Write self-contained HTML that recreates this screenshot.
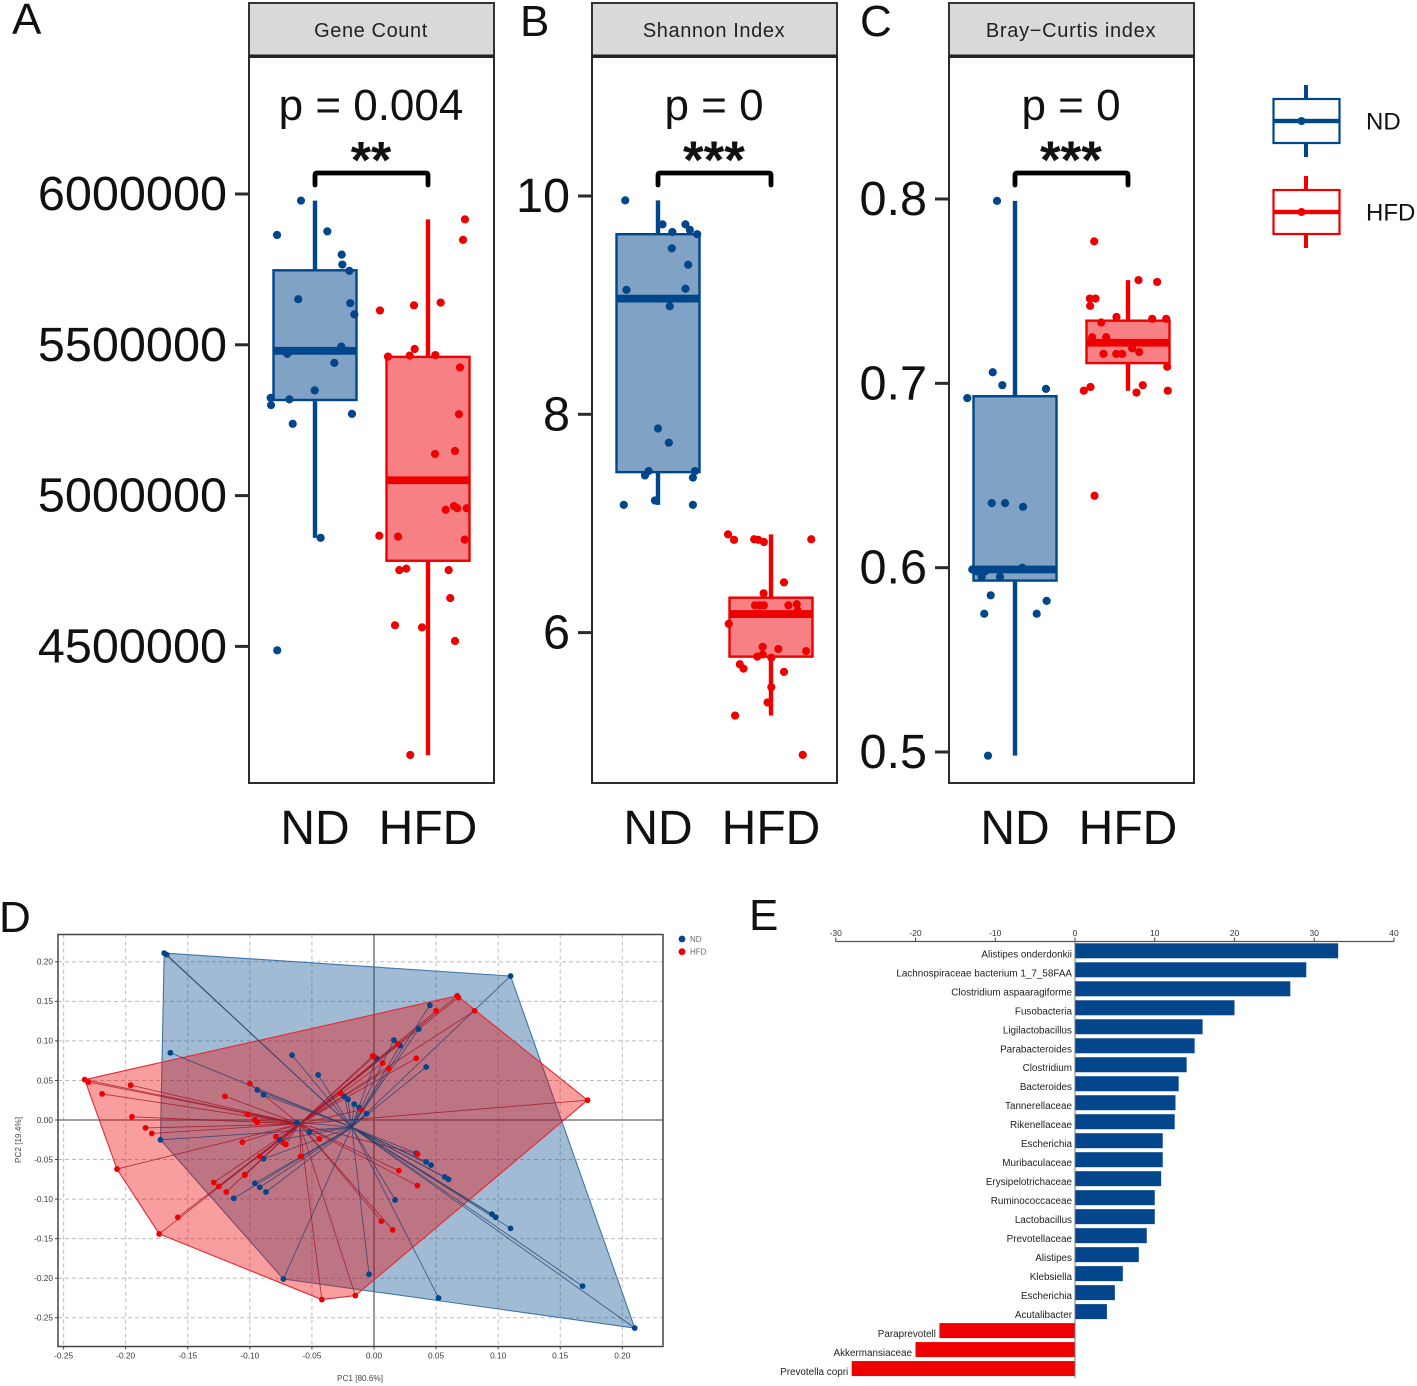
<!DOCTYPE html>
<html lang="en">
<head>
<meta charset="utf-8">
<title>Gut microbiome diversity, PCoA and differential taxa</title>
<style>
html,body{margin:0;padding:0;background:#fff;}
svg{display:block;font-family:"Liberation Sans",sans-serif;filter:blur(0.3px);}
</style>
</head>
<body>
<svg id="figure" xmlns="http://www.w3.org/2000/svg" width="1417" height="1386" viewBox="0 0 1417 1386">
  <rect x="0" y="0" width="1417" height="1386" fill="#fff"/>
  <text x="12" y="34" font-size="44" fill="#111">A</text>
  <text x="520" y="36" font-size="44" fill="#111">B</text>
  <text x="860" y="36" font-size="44" fill="#111">C</text>
  <text x="-1" y="932" font-size="44" fill="#111">D</text>
  <text x="749" y="930" font-size="44" fill="#111">E</text>

  <g id="panelA">
    <rect x="249" y="3" width="245" height="53" fill="#d9d9d9" stroke="#333" stroke-width="2"/>
    <text x="371" y="37" font-size="20" text-anchor="middle" letter-spacing="0.6" fill="#222">Gene Count</text>
    <text x="371" y="120" font-size="44" text-anchor="middle" fill="#111">p = 0.004</text>
    <text x="371" y="178" font-size="52" font-weight="bold" text-anchor="middle" fill="#111">**</text>
    <path d="M315 185V175Q315 173 317 173H426Q428 173 428 175V185" fill="none" stroke="#000" stroke-width="4.8" stroke-linecap="round"/>
  </g>
  <g id="panelB">
    <rect x="592" y="3" width="245" height="53" fill="#d9d9d9" stroke="#333" stroke-width="2"/>
    <text x="714" y="37" font-size="20" text-anchor="middle" letter-spacing="0.6" fill="#222">Shannon Index</text>
    <text x="714" y="120" font-size="44" text-anchor="middle" fill="#111">p = 0</text>
    <text x="714" y="178" font-size="53" font-weight="bold" text-anchor="middle" fill="#111">***</text>
    <path d="M658 185V175Q658 173 660 173H769Q771 173 771 175V185" fill="none" stroke="#000" stroke-width="4.8" stroke-linecap="round"/>
  </g>
  <g id="panelC">
    <rect x="949" y="3" width="245" height="53" fill="#d9d9d9" stroke="#333" stroke-width="2"/>
    <text x="1071" y="37" font-size="20" text-anchor="middle" letter-spacing="0.7" fill="#222">Bray−Curtis index</text>
    <text x="1071" y="120" font-size="44" text-anchor="middle" fill="#111">p = 0</text>
    <text x="1071" y="178" font-size="53" font-weight="bold" text-anchor="middle" fill="#111">***</text>
    <path d="M1015 185V175Q1015 173 1017 173H1126Q1128 173 1128 175V185" fill="none" stroke="#000" stroke-width="4.8" stroke-linecap="round"/>
  </g>

  <g>
    <g>
      <rect x="1304" y="85" width="4" height="72" fill="#00468b"/>
      <rect x="1273.5" y="99" width="66" height="44" fill="#fff" stroke="#00468b" stroke-width="2.2"/>
      <rect x="1273.5" y="118.8" width="66" height="4.4" fill="#00468b"/>
      <circle cx="1301.5" cy="121" r="4" fill="#00468b"/>
      <text x="1366" y="129.5" font-size="24" fill="#111">ND</text>
    </g>
    <g>
      <rect x="1304" y="176" width="4" height="72" fill="#ed0000"/>
      <rect x="1273.5" y="190" width="66" height="44" fill="#fff" stroke="#ed0000" stroke-width="2.2"/>
      <rect x="1273.5" y="209.8" width="66" height="4.4" fill="#ed0000"/>
      <circle cx="1301.5" cy="212" r="4" fill="#ed0000"/>
      <text x="1366" y="220.5" font-size="24" fill="#111">HFD</text>
    </g>
  </g>

  <g id="panelD">
    <text x="360" y="1381" font-size="8.2" text-anchor="middle" fill="#444">PC1 [80.6%]</text>
    <text transform="translate(21 1140) rotate(-90)" font-size="8.2" text-anchor="middle" fill="#444">PC2 [19.4%]</text>
    <circle cx="682" cy="939" r="3.4" fill="#00468b"/>
    <text x="690" y="941.8" font-size="8" fill="#666">ND</text>
    <circle cx="682" cy="951.7" r="3.4" fill="#ed0000"/>
    <text x="690" y="954.5" font-size="8" fill="#666">HFD</text>
  </g>
  <g id="panelE"></g>
</svg>

<script>
/* ---------- box plot data ---------- */
const categories = ['ND', 'HFD'];

const geneTicks = [6000000, 5500000, 5000000, 4500000];
const geneBoxNd = [4860000, 5317000, 5480000, 5747000, 5978000];
const geneBoxHfd = [4139000, 4784000, 5051000, 5460000, 5916000];
const geneNdValues = [5978000, 5864000, 5876000, 5799000, 5766000, 5745000, 5651000, 5638000, 5601000, 5494000, 5470000, 5440000, 5349000, 5324000, 5319000, 5300000, 5271000, 5238000, 4860000, 4487000];
const geneNdJitter = [-.124, -.336, .109, .236, .242, .304, -.148, .312, .348, .233, -.245, .171, -.003, -.392, -.227, -.389, .327, -.197, .05, -.334];
const geneHfdValues = [5916000, 5848000, 5614000, 5631000, 5640000, 5486000, 5461000, 5464000, 5466000, 5425000, 5270000, 5138000, 5148000, 4953000, 4965000, 4958000, 4958000, 4867000, 4864000, 4854000, 4753000, 4758000, 4753000, 4660000, 4570000, 4563000, 4518000, 4140000];
const geneHfdJitter = [.327, .31, -.425, -.124, .112, -.118, -.354, -.162, .065, .283, .274, .062, .239, .157, .23, .259, .342, -.431, -.265, .325, -.254, -.192, .183, .197, -.292, -.053, .239, -.157];

const shannonTicks = [10, 8, 6];
const shannonBoxNd = [7.17, 7.47, 9.06, 9.65, 9.96];
const shannonBoxHfd = [5.24, 5.78, 6.17, 6.32, 6.90];
const shannonNdValues = [9.96, 9.74, 9.74, 9.69, 9.67, 9.65, 9.52, 9.37, 9.14, 9.15, 8.99, 7.87, 7.74, 7.48, 7.44, 7.48, 7.42, 7.21, 7.17, 7.17];
const shannonNdJitter = [-.29, .04, .243, .282, .127, .347, .122, .267, -.279, .243, .104, 0, .096, -.083, -.115, .327, .309, -.027, -.303, .309];
const shannonHfdValues = [6.90, 6.85, 6.855, 6.85, 6.83, 6.855, 6.46, 6.36, 6.25, 6.25, 6.25, 6.25, 6.26, 6.20, 6.08, 5.87, 5.85, 5.83, 5.80, 5.78, 5.77, 5.71, 5.67, 5.64, 5.50, 5.36, 5.24, 4.88];
const shannonHfdJitter = [-.38, -.327, -.149, -.113, -.063, .356, .115, -.065, -.142, -.098, -.063, .154, .228, .237, -.374, -.074, .065, .311, -.074, -.122, .003, -.276, -.243, .115, .003, -.03, -.318, .281];

const brayTicks = [0.8, 0.7, 0.6, 0.5];
const brayBoxNd = [.498, .593, .599, .693, .799];
const brayBoxHfd = [.696, .711, .722, .734, .756];
const brayNdValues = [.799, .706, .699, .697, .692, .635, .635, .633, .599, .598, .599, .598, .600, .595, .595, .585, .582, .575, .575, .498];
const brayNdJitter = [-.159, -.197, -.112, .274, -.422, -.206, -.088, .071, -.378, -.339, -.295, -.265, .065, -.133, -.295, -.215, .28, -.272, .192, -.239];
const brayHfdValues = [.777, .756, .755, .746, .746, .742, .736, .735, .735, .733, .725, .725, .719, .717, .716, .716, .716, .709, .699, .698, .696, .695, .696, .639];
const brayHfdJitter = [-.299, .093, .258, -.338, -.288, -.335, -.102, .214, .338, -.237, -.317, -.193, .037, .099, -.217, -.104, -.051, .347, .131, -.332, -.391, .075, .352, -.296];

/* ---------- PCoA data ---------- */
const pcTicksX = [-.25, -.2, -.15, -.1, -.05, 0, .05, .1, .15, .2];
const pcTicksY = [.2, .15, .1, .05, 0, -.05, -.1, -.15, -.2, -.25];
const ndCentroid = [-.018, -.009];
const hfdCentroid = [-.060, -.005];
const ndPc1 = [-.169, -.167, -.164, -.172, -.066, -.045, -.094, -.089, -.062, -.052, -.076, -.089, -.096, -.092, -.087, -.113, -.073, -.024, -.021, -.016, -.012, .110, .045, .036, .016, .021, .002, .042, -.006, .034, .042, .046, .057, .060, .095, .098, .110, .168, .210, .052, .017, -.004];
const ndPc2 = [.211, .209, .085, -.025, .082, .057, .038, .032, -.003, -.015, -.025, -.049, -.080, -.085, -.091, -.099, -.201, .030, .026, .020, .016, .182, .145, .115, .101, .094, .078, .067, .008, -.042, -.053, -.057, -.072, -.075, -.119, -.123, -.137, -.210, -.263, -.225, -.101, -.195];
const hfdPc1 = [-.233, -.230, -.196, -.219, -.195, -.184, -.179, -.207, -.158, -.173, -.129, -.125, -.119, -.104, -.104, -.092, -.106, -.079, -.073, -.071, -.059, -.044, -.100, -.120, -.102, -.096, -.094, -.042, -.015, -.027, .067, .068, .050, .081, .019, -.001, 0, .007, .012, .034, -.010, .172, .035, .020, .035, .006, .015];
const hfdPc2 = [.051, .048, .044, .033, .004, -.010, -.017, -.062, -.123, -.144, -.079, -.084, -.091, -.069, -.070, -.046, -.028, -.021, -.029, -.031, -.046, -.024, .046, .030, .007, .000, -.003, -.227, -.222, .034, .157, .155, .138, .138, .096, .081, .080, .072, .065, .078, .013, .025, -.043, -.064, -.083, -.128, -.139];

/* ---------- differential taxa data ---------- */
const taxaTicks = [-30, -20, -10, 0, 10, 20, 30, 40];
const taxaLabels = ['Alistipes onderdonkii', 'Lachnospiraceae bacterium 1_7_58FAA', 'Clostridium aspaaragiforme', 'Fusobacteria', 'Ligilactobacillus', 'Parabacteroides', 'Clostridium', 'Bacteroides', 'Tannerellaceae', 'Rikenellaceae', 'Escherichia', 'Muribaculaceae', 'Erysipelotrichaceae', 'Ruminococcaceae', 'Lactobacillus', 'Prevotellaceae', 'Alistipes', 'Klebsiella', 'Escherichia', 'Acutalibacter', 'Paraprevotell', 'Akkermansiaceae', 'Prevotella copri'];
const taxaValues = [33, 29, 27, 20, 16, 15, 14, 13, 12.6, 12.5, 11, 11, 10.8, 10, 10, 9, 8, 6, 5, 4, -17, -20, -28];

/* ---------- helpers ---------- */
const NS = 'http://www.w3.org/2000/svg';
const BLUE = '#00468b';
const RED = '#ed0000';

function mk(tag, attrs, parent) {
  const el = document.createElementNS(NS, tag);
  for (const k in attrs) el.setAttribute(k, attrs[k]);
  parent.appendChild(el);
  return el;
}
function linear(d0, d1, r0, r1) {
  return function (v) { return r0 + (v - d0) * (r1 - r0) / (d1 - d0); };
}

/* ---------- box plot panels ---------- */
function drawGroup(parent, cx, y, box, values, jitter, color, fillColor) {
  const halfW = 41.5;
  const whisker = mk('line', { x1: cx, x2: cx, y1: y(box[0]), y2: y(box[4]), stroke: color, 'stroke-width': 4.4 }, parent);
  
  

  const body = mk('rect', { x: cx - halfW, y: y(box[3]), width: halfW * 2, height: y(box[1]) - y(box[3]), fill: fillColor, stroke: color, 'stroke-width': 2.4 }, parent);
  
  

  const median = mk('line', { x1: cx - halfW, x2: cx + halfW, y1: y(box[2]), y2: y(box[2]), stroke: color, 'stroke-width': 7.8 }, parent);
  
  

  values.forEach(function (v, i) {
    const dot = mk('circle', { cx: cx + jitter[i] * 113, cy: y(v), r: 4.1, fill: color }, parent);
    
    
  });
}

function drawBoxPanel(id, left, y, ticks, tickFormat, boxNd, boxHfd, ndV, ndJ, hfdV, hfdJ) {
  const g = document.getElementById(id);
  const top = 57, bottom = 783, right = left + 245;
  const x = function (i) { return left + 66 + 113 * i; };

  drawGroup(g, x(0), y, boxNd, ndV, ndJ, BLUE, '#7fa2c5');
  drawGroup(g, x(1), y, boxHfd, hfdV, hfdJ, RED, '#f68084');

  const frame = mk('rect', { x: left, y: top, width: right - left, height: bottom - top, fill: 'none', stroke: '#2b2b2b', 'stroke-width': 2 }, g);
  
  

  const stripRule = mk('line', { x1: left, x2: right, y1: 56, y2: 56, stroke: '#222', 'stroke-width': 3 }, g);
  
  

  ticks.forEach(function (t) {
    const mark = mk('line', { x1: left - 14, x2: left, y1: y(t), y2: y(t), stroke: '#2b2b2b', 'stroke-width': 3 }, g);
    
    

    const label = mk('text', { x: left - 22, y: y(t) + 16, 'font-size': 48.6, 'text-anchor': 'end', fill: '#111' }, g);
    
    
    label.textContent = tickFormat(t);
  });

  categories.forEach(function (c, i) {
    const label = mk('text', { x: x(i), y: 844, 'font-size': 48, 'text-anchor': 'middle', fill: '#111' }, g);
    
    
    label.textContent = c;
  });
}

const fmtInt = function (t) { return String(t); };
const fmtOne = function (t) { return t.toFixed(1); };
drawBoxPanel('panelA', 249, linear(6000000, 4500000, 194, 646.4), geneTicks, fmtInt, geneBoxNd, geneBoxHfd, geneNdValues, geneNdJitter, geneHfdValues, geneHfdJitter);
drawBoxPanel('panelB', 592, linear(10, 6, 196, 632.6), shannonTicks, fmtInt, shannonBoxNd, shannonBoxHfd, shannonNdValues, shannonNdJitter, shannonHfdValues, shannonHfdJitter);
drawBoxPanel('panelC', 949, linear(.8, .5, 199, 752), brayTicks, fmtOne, brayBoxNd, brayBoxHfd, brayNdValues, brayNdJitter, brayHfdValues, brayHfdJitter);

/* ---------- PCoA panel ---------- */
function convexHull(xs, ys) {
  const pts = xs.map(function (v, i) { return [v, ys[i]]; }).sort(function (a, b) { return a[0] - b[0] || a[1] - b[1]; });
  const cross = function (o, a, b) { return (a[0] - o[0]) * (b[1] - o[1]) - (a[1] - o[1]) * (b[0] - o[0]); };
  const lower = [], upper = [];
  pts.forEach(function (p) {
    while (lower.length >= 2 && cross(lower[lower.length - 2], lower[lower.length - 1], p) <= 0) lower.pop();
    lower.push(p);
  });
  pts.slice().reverse().forEach(function (p) {
    while (upper.length >= 2 && cross(upper[upper.length - 2], upper[upper.length - 1], p) <= 0) upper.pop();
    upper.push(p);
  });
  return lower.slice(0, -1).concat(upper.slice(0, -1));
}

(function drawPcoa() {
  const g = document.getElementById('panelD');
  const px = linear(0, .2, 374, 622.3);
  const py = linear(0, .2, 1120, 961.8);
  const L = 58, R = 663, T = 934.5, B = 1346.5;

  pcTicksX.forEach(function (t) {
    const grid = mk('line', { x1: px(t), x2: px(t), y1: T, y2: B, stroke: t === 0 ? '#808080' : '#bcbcbc', 'stroke-width': t === 0 ? 1.6 : 1, 'stroke-dasharray': t === 0 ? 'none' : '4 3' }, g);
    
    

    const mark = mk('line', { x1: px(t), x2: px(t), y1: B, y2: B + 3, stroke: '#444', 'stroke-width': 1 }, g);
    
    

    const label = mk('text', { x: px(t), y: 1358.5, 'font-size': 8.3, 'text-anchor': 'middle', fill: '#3a3a3a' }, g);
    
    
    label.textContent = t.toFixed(2);
  });
  pcTicksY.forEach(function (t) {
    const grid = mk('line', { x1: L, x2: R, y1: py(t), y2: py(t), stroke: t === 0 ? '#808080' : '#bcbcbc', 'stroke-width': t === 0 ? 1.6 : 1, 'stroke-dasharray': t === 0 ? 'none' : '4 3' }, g);
    
    

    const mark = mk('line', { x1: L - 3, x2: L, y1: py(t), y2: py(t), stroke: '#444', 'stroke-width': 1 }, g);
    
    

    const label = mk('text', { x: 53, y: py(t) + 2.8, 'font-size': 8.3, 'text-anchor': 'end', fill: '#3a3a3a' }, g);
    
    
    label.textContent = t.toFixed(2);
  });

  const hullPoints = function (xs, ys) {
    return convexHull(xs, ys).map(function (p) { return px(p[0]) + ',' + py(p[1]); }).join(' ');
  };

  const ndHull = mk('polygon', { points: hullPoints(ndPc1, ndPc2), fill: BLUE, 'fill-opacity': .37, stroke: '#3f76aa', 'stroke-width': 1.1, 'stroke-linejoin': 'round' }, g);
  
  

  const hfdHull = mk('polygon', { points: hullPoints(hfdPc1, hfdPc2), fill: RED, 'fill-opacity': .38, stroke: '#e42a33', 'stroke-width': 1.1, 'stroke-linejoin': 'round' }, g);
  
  

  hfdPc1.forEach(function (v, i) {
    const line = mk('line', { x1: px(hfdCentroid[0]), y1: py(hfdCentroid[1]), x2: px(v), y2: py(hfdPc2[i]), stroke: '#a01525', 'stroke-opacity': .8, 'stroke-width': .85 }, g);
    
    
  });
  ndPc1.forEach(function (v, i) {
    const line = mk('line', { x1: px(ndCentroid[0]), y1: py(ndCentroid[1]), x2: px(v), y2: py(ndPc2[i]), stroke: '#24406f', 'stroke-opacity': .8, 'stroke-width': .85 }, g);
    
    
  });
  ndPc1.forEach(function (v, i) {
    const dot = mk('circle', { cx: px(v), cy: py(ndPc2[i]), r: 2.9, fill: BLUE }, g);
    
    
  });
  hfdPc1.forEach(function (v, i) {
    const dot = mk('circle', { cx: px(v), cy: py(hfdPc2[i]), r: 2.9, fill: RED }, g);
    
    
  });

  const frame = mk('rect', { x: L, y: T, width: R - L, height: B - T, fill: 'none', stroke: '#444', 'stroke-width': 1.5 }, g);
  
  
})();

/* ---------- differential taxa panel ---------- */
(function drawTaxa() {
  const g = document.getElementById('panelE');
  const bx = linear(0, 40, 1075, 1394);
  const by = function (i) { return 950.8 + 18.99 * i; };
  const barH = 15;

  taxaValues.forEach(function (v, i) {
    const x0 = Math.min(bx(0), bx(v));
    const bar = mk('rect', { x: x0, y: by(i) - barH / 2, width: Math.abs(bx(v) - bx(0)), height: barH, fill: v >= 0 ? '#03468c' : '#ee0000' }, g);
    
    

    const label = mk('text', { x: v >= 0 ? 1072 : bx(v) - 3.5, y: by(i) + 6.5, 'font-size': 9.9, 'text-anchor': 'end', fill: '#222' }, g);
    
    
    label.textContent = taxaLabels[i];
  });

  const axis = mk('line', { x1: bx(-30), x2: bx(40), y1: 941.5, y2: 941.5, stroke: '#555', 'stroke-width': 1.3 }, g);
  
  

  const zero = mk('line', { x1: bx(0), x2: bx(0), y1: 941, y2: 1378, stroke: '#777', 'stroke-width': 1 }, g);
  
  

  taxaTicks.forEach(function (t) {
    const mark = mk('line', { x1: bx(t), x2: bx(t), y1: 937.5, y2: 941.5, stroke: '#555', 'stroke-width': 1.1 }, g);
    
    

    const label = mk('text', { x: bx(t), y: 936, 'font-size': 8.5, 'text-anchor': 'middle', fill: '#333' }, g);
    
    
    label.textContent = String(t);
  });
})();
</script>
</body>
</html>
